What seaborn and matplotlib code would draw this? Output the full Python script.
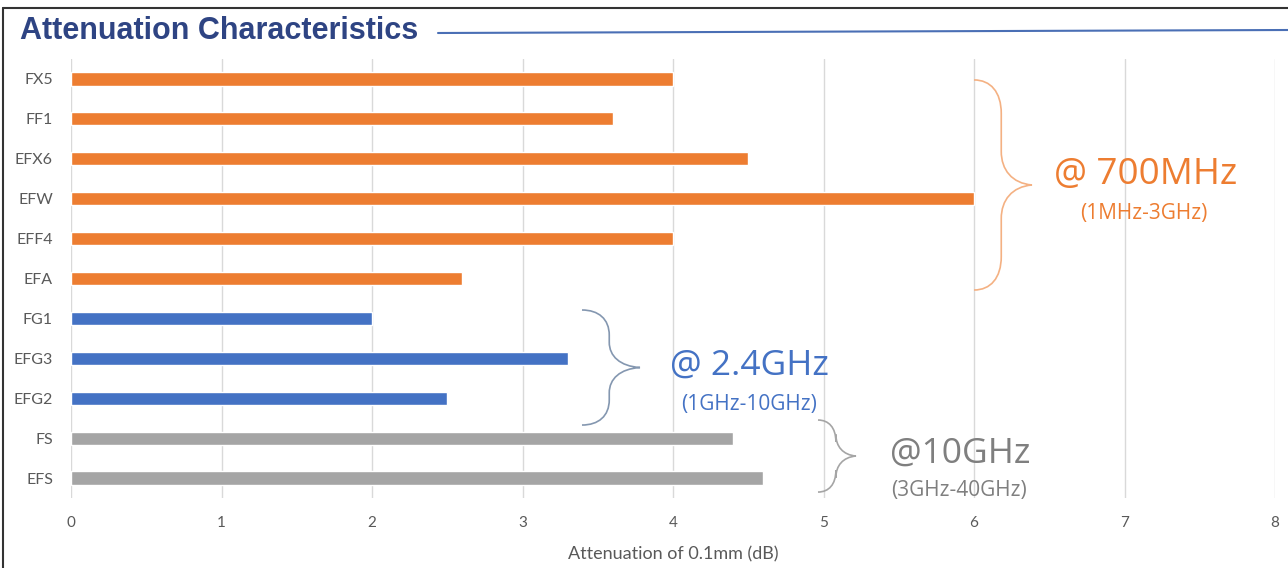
import matplotlib
matplotlib.use("Agg")
import matplotlib.pyplot as plt
from matplotlib.path import Path
from matplotlib.patches import PathPatch
from matplotlib.lines import Line2D
import seaborn as sns
import pandas as pd

categories = ["FX5", "FF1", "EFX6", "EFW", "EFF4", "EFA", "FG1", "EFG3", "EFG2", "FS", "EFS"]
values = [4.0, 3.6, 4.5, 6.0, 4.0, 2.6, 2.0, 3.3, 2.5, 4.4, 4.6]
groups = ["700MHz"] * 6 + ["2.4GHz"] * 3 + ["10GHz"] * 2
group_colors = {"700MHz": "#ED7D31", "2.4GHz": "#4472C4", "10GHz": "#A5A5A5"}
x_ticks = [0, 1, 2, 3, 4, 5, 6, 7, 8]

df = pd.DataFrame({"cat": categories, "val": values, "grp": groups})

sns.set_theme(style="white")
plt.rcParams["font.family"] = ["Lato", "DejaVu Sans"]

fig = plt.figure(figsize=(12.88, 5.68), dpi=100)
ax = fig.add_axes([71 / 1288, 1 - 498 / 568, (1275 - 71) / 1288, (498 - 59) / 568])

sns.barplot(data=df, x="val", y="cat", hue="grp", palette=group_colors,
            dodge=False, width=0.33, legend=False, ax=ax, saturation=1, order=categories)

ax.set_xlim(0, 8)
ax.set_ylim(10.5, -0.5)
ax.set_xticks(x_ticks)
ax.set_xticklabels([str(t) for t in x_ticks])
ax.grid(axis="x", color="#D9D9D9", linewidth=1)
ax.set_axisbelow(True)
for s in ax.spines.values():
    s.set_visible(False)
ax.tick_params(axis="y", length=0, pad=13, labelsize=11.5, labelcolor="#595959")
ax.tick_params(axis="x", length=0, pad=13, labelsize=11, labelcolor="#595959")
ax.set_ylabel("")
ax.set_xlabel("Attenuation of 0.1mm (dB)", fontsize=13, color="#595959", labelpad=12)


def brace(ax, x0, x1, ytop, ybot, color, frac=0.17):
    w = x1 - x0
    xm = x0 + 0.47 * w
    h = ybot - ytop
    ymid = (ytop + ybot) / 2
    c = frac * h
    verts = [
        (x0, ytop),
        (x0 + 0.6 * (xm - x0), ytop), (xm, ytop + 0.35 * c), (xm, ytop + c),
        (xm, ymid - c),
        (xm, ymid - 0.45 * c), (xm + 0.35 * (x1 - xm), ymid - 0.05 * c), (x1, ymid),
        (xm + 0.35 * (x1 - xm), ymid + 0.05 * c), (xm, ymid + 0.45 * c), (xm, ymid + c),
        (xm, ybot - c),
        (xm, ybot - 0.35 * c), (x0 + 0.6 * (xm - x0), ybot), (x0, ybot),
    ]
    codes = [Path.MOVETO,
             Path.CURVE4, Path.CURVE4, Path.CURVE4,
             Path.LINETO,
             Path.CURVE4, Path.CURVE4, Path.CURVE4,
             Path.CURVE4, Path.CURVE4, Path.CURVE4,
             Path.LINETO,
             Path.CURVE4, Path.CURVE4, Path.CURVE4]
    ax.add_patch(PathPatch(Path(verts, codes), facecolor="none", edgecolor=color,
                           linewidth=1.2, clip_on=False))


def px2x(px):
    return (px - 71) / 150.5


def py2y(py):
    return (py - 79) / 39.9


brace(ax, px2x(974), px2x(1032), py2y(80), py2y(290), "#F4B183", 0.16)
brace(ax, px2x(582), px2x(640), py2y(310), py2y(425), "#8497B0", 0.22)
brace(ax, px2x(818), px2x(856), py2y(420), py2y(492), "#A5A5A5", 0.3)

fam = ["Open Sans", "DejaVu Sans"]
ax.text(px2x(1146), py2y(175), "@ 700MHz", color="#ED7D31", fontsize=26.5,
        ha="center", va="center", family=fam)
ax.text(px2x(1144), py2y(214), "(1MHz-3GHz)", color="#ED7D31", fontsize=15,
        ha="center", va="center", family=fam)
ax.text(px2x(749), py2y(366), "@ 2.4GHz", color="#4472C4", fontsize=25.5,
        ha="center", va="center", family=fam)
ax.text(px2x(749), py2y(404), "(1GHz-10GHz)", color="#4472C4", fontsize=15,
        ha="center", va="center", family=fam)
ax.text(px2x(960), py2y(454), "@10GHz", color="#7F7F7F", fontsize=25.5,
        ha="center", va="center", family=fam)
ax.text(px2x(959), py2y(490), "(3GHz-40GHz)", color="#7F7F7F", fontsize=15,
        ha="center", va="center", family=fam)

# title and decorations
fig.text(20 / 1288, 1 - 31 / 568, "Attenuation Characteristics", fontsize=22,
         fontweight="bold", color="#2E4483", ha="left", va="center",
         family=["Liberation Sans", "DejaVu Sans"])
fig.add_artist(Line2D([438 / 1288, 1.0], [1 - 33 / 568, 1 - 30 / 568],
                      color="#4A6FB5", linewidth=1.5, transform=fig.transFigure))
fig.add_artist(Line2D([3 / 1288, 1.0], [1 - 8 / 568, 1 - 8 / 568],
                      color="#333333", linewidth=1.5, transform=fig.transFigure))
fig.add_artist(Line2D([3 / 1288, 3 / 1288], [0, 1 - 8 / 568],
                      color="#333333", linewidth=1.5, transform=fig.transFigure))

fig.savefig("out.png", dpi=100)
